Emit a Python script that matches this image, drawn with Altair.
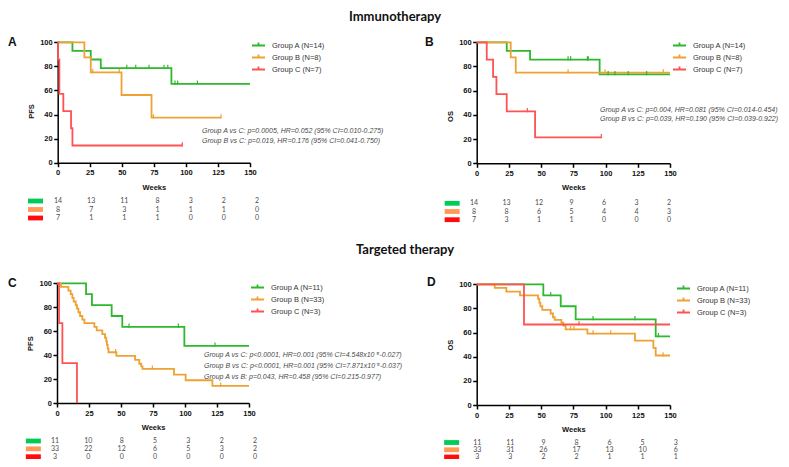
import altair as alt
import pandas as pd

W, H = 773, 451
week_ticks = [0, 25, 50, 75, 100, 125, 150]
pct_ticks = [0, 20, 40, 60, 80, 100]
groups = ["A", "B", "C"]
line_colors = ["#2DB82D", "#EDA233", "#FF5252"]
swatch_colors = ["#00CC55", "#FF9955", "#FF0D0D"]

# ---------------- Panel A : Immunotherapy, PFS ----------------
a_labels = ["Group A (N=14)", "Group B (N=8)", "Group C (N=7)"]
a_A_t = [0, 11.5, 25.8, 33.6, 88.7, 150]
a_A_s = [100, 92.9, 85.7, 78.6, 65.5, 65.5]
a_A_ct = [53.9, 60.9, 71.2, 82.9, 85.9, 91.5, 93.6, 109]
a_A_cs = [78.6, 78.6, 78.6, 78.6, 78.6, 65.5, 65.5, 65.5]
a_B_t = [0, 20.8, 25.8, 49.8, 73.2, 127.4]
a_B_s = [100, 87.5, 75, 56.25, 37.5, 37.5]
a_B_ct = [27.3, 48, 74.7, 127.4]
a_B_cs = [75, 75, 37.5, 37.5]
a_C_t = [0, 0.3, 1.3, 4.4, 10.4, 11.5, 97.2]
a_C_s = [100, 85.7, 57.1, 42.9, 28.6, 14.3, 14.3]
a_C_ct = [97.2]
a_C_cs = [14.3]
a_risk_A = [14, 13, 11, 8, 3, 2, 2]
a_risk_B = [8, 7, 3, 1, 1, 1, 0]
a_risk_C = [7, 1, 1, 1, 0, 0, 0]
a_notes = ["Group A vs C: p=0.0005, HR=0.052 (95% CI=0.010-0.275)",
           "Group B vs C: p=0.019, HR=0.176 (95% CI=0.041-0.750)"]

# ---------------- Panel B : Immunotherapy, OS ----------------
b_labels = ["Group A (N=14)", "Group B (N=8)", "Group C (N=7)"]
b_A_t = [0, 23.3, 41.4, 95.4, 150]
b_A_s = [100, 92.9, 85.7, 73.5, 73.5]
b_A_ct = [70.9, 72.9, 85.9, 86.6, 102, 107.3, 117.6, 131.8]
b_A_cs = [85.7, 85.7, 85.7, 85.7, 73.5, 73.5, 73.5, 73.5]
b_B_t = [0, 26.4, 30.3, 150]
b_B_s = [100, 87.5, 75, 75]
b_B_ct = [70.9, 99.6, 144.8]
b_B_cs = [75, 75, 75]
b_C_t = [0, 7.8, 12.7, 15.3, 23.3, 45.3, 96.7]
b_C_s = [100, 85.7, 71.4, 57.1, 42.9, 21.4, 21.4]
b_C_ct = [39.3, 96.7]
b_C_cs = [42.9, 21.4]
b_risk_A = [14, 13, 12, 9, 6, 3, 2]
b_risk_B = [8, 8, 6, 5, 4, 4, 3]
b_risk_C = [7, 3, 1, 1, 0, 0, 0]
b_notes = ["Group A vs C: p=0.004, HR=0.081 (95% CI=0.014-0.454)",
           "Group B vs C: p=0.039, HR=0.190 (95% CI=0.039-0.922)"]

# ---------------- Panel C : Targeted therapy, PFS ----------------
c_labels = ["Group A (N=11)", "Group B (N=33)", "Group C (N=3)"]
c_A_t = [0, 22.7, 27.3, 42.7, 51.0, 99.5, 150]
c_A_s = [100, 90.9, 81.8, 72.7, 63.6, 47.7, 47.7]
c_A_ct = [56.3, 94.8, 123.4]
c_A_cs = [63.6, 63.6, 47.7]
c_B_t = [0, 3.1, 8.9, 10.7, 12.0, 13.0, 14.6, 15.6, 16.7, 18.0, 19.8, 21.4,
         29.2, 31.0, 35.4, 37.5, 38.5, 39.0, 39.6, 40.2,
         46.4, 61.0, 64.3, 65.8, 66.8, 91.4, 100.5, 121.4, 150]
c_B_s = [100, 97.0, 93.9, 90.9, 87.9, 84.8, 81.8, 78.8, 75.8, 72.7, 69.7, 66.7,
         63.6, 60.6, 57.6, 54.5, 51.5, 48.5, 45.5, 42.4,
         39.4, 36.1, 32.8, 30.6, 28.5, 23.7, 19.0, 14.3, 14.3]
c_B_ct = [45.8, 74.5, 127.9]
c_B_cs = [42.4, 28.5, 14.3]
c_C_t = [0, 1.6, 4.2, 15.6]
c_C_s = [100, 66.7, 33.3, 0]
c_C_ct = []
c_C_cs = []
c_risk_A = [11, 10, 8, 5, 3, 2, 2]
c_risk_B = [33, 22, 12, 6, 5, 3, 2]
c_risk_C = [3, 0, 0, 0, 0, 0, 0]
c_notes = ["Group A vs C: p<0.0001, HR=0.001 (95% CI=4.548x10\u207b\u2075-0.027)",
           "Group B vs C: p<0.0001, HR=0.001 (95% CI=7.871x10\u207b\u2075-0.037)",
           "Group A vs B: p=0.043, HR=0.458 (95% CI=0.215-0.977)"]

# ---------------- Panel D : Targeted therapy, OS ----------------
d_labels = ["Group A (N=11)", "Group B (N=33)", "Group C (N=3)"]
d_A_t = [0, 51.7, 65.2, 76.8, 138.9, 150]
d_A_s = [100, 90.9, 81.8, 71.0, 56.8, 56.8]
d_A_ct = [57.4, 90.3, 122.8, 141]
d_A_cs = [90.9, 71.0, 71.0, 56.8]
d_B_t = [0, 14.0, 23.0, 33.6, 47.6, 48.6, 49.4, 50.9, 57.4, 59.2, 60.5, 65.7,
         67.2, 69.0, 85.9, 122.8, 137.1, 138.9, 150]
d_B_s = [100, 97.0, 93.9, 90.9, 87.9, 84.8, 81.8, 78.8, 75.8, 72.7, 70.5, 68.2,
         65.7, 62.7, 59.1, 53.3, 47.4, 41.0, 41.0]
d_B_ct = [72.9, 75.5, 90.3, 104, 144.6]
d_B_cs = [62.7, 62.7, 59.1, 59.1, 41.0]
d_C_t = [0, 36.7, 150]
d_C_s = [100, 66.7, 66.7]
d_C_ct = [79.4]
d_C_cs = [66.7]
d_risk_A = [11, 11, 9, 8, 6, 5, 3]
d_risk_B = [33, 31, 26, 17, 13, 10, 6]
d_risk_C = [3, 3, 2, 2, 1, 1, 1]


def curve_df(labels, series):
    rows = []
    for lab, (ts, ss) in zip(labels, series):
        for i, (t, s) in enumerate(zip(ts, ss)):
            rows.append({"t": t, "s": s, "g": lab, "o": i})
    return pd.DataFrame(rows, columns=["t", "s", "g", "o"])


def risk_df(risks):
    rows = []
    for g, vals in zip(groups, risks):
        for t, n in zip(week_ticks, vals):
            rows.append({"t": t, "g": g, "n": n})
    return pd.DataFrame(rows)


def panel(labels, curves, cens, risks, ytitle, xr, yr, legxy, rx, ry, sx, title_y=None):
    line_df = curve_df(labels, curves)
    cens_df = curve_df(labels, cens)
    xscale = alt.Scale(domain=[0, 150], range=list(xr), nice=False, zero=False)
    yscale = alt.Scale(domain=[0, 100], range=[yr[0], yr[1]], nice=False)
    cscale = alt.Scale(domain=labels, range=line_colors)
    yaxis_kw = dict(orient="left", offset=-xr[0], values=pct_ticks, title=ytitle,
                    tickSize=4, labelPadding=1.5, titlePadding=4.5,
                    labelFlush=False, labelOverlap=False, grid=False)
    if title_y is not None:
        yaxis_kw["titleY"] = title_y
    lines = alt.Chart(line_df).mark_line(interpolate="step-after", strokeWidth=1.8).encode(
        x=alt.X("t:Q", scale=xscale,
                axis=alt.Axis(orient="bottom", offset=yr[0] - H, values=week_ticks,
                              title="Weeks", tickSize=4, labelPadding=2, titlePadding=7,
                              labelFlush=False, labelOverlap=False, grid=False)),
        y=alt.Y("s:Q", scale=yscale, axis=alt.Axis(**yaxis_kw)),
        color=alt.Color("g:N", scale=cscale,
                        legend=alt.Legend(orient="none", legendX=legxy[0], legendY=legxy[1],
                                          title=None, symbolType="M-1,0H1M0,0V-0.45",
                                          symbolSize=169, symbolStrokeWidth=1.8,
                                          labelFont="Liberation Sans", labelFontSize=7.5,
                                          labelColor="#333333", labelOffset=6, rowPadding=-5.5)),
        order="o:Q",
    )
    ticks = alt.Chart(cens_df).mark_point(shape="M0,-1.1V0.3", size=36, filled=False,
                                          strokeWidth=1.2, opacity=1).encode(
        x=alt.X("t:Q", scale=xscale),
        y=alt.Y("s:Q", scale=yscale),
        color=alt.Color("g:N", scale=cscale, legend=None),
    )
    km = alt.layer(lines, ticks)

    rdf = risk_df(risks)
    ry_scale = alt.Scale(type="point", domain=groups, range=list(ry), padding=0)
    rtext = alt.Chart(rdf).mark_text(font="Lato", fontSize=7, color="#4d4d4d",
                                     baseline="middle", align="center").encode(
        x=alt.X("t:Q", scale=alt.Scale(domain=[0, 150], range=list(rx), nice=False, zero=False),
                axis=None),
        y=alt.Y("g:N", scale=ry_scale, axis=None),
        text="n:Q",
    )
    sdf = pd.DataFrame({"g": groups, "k": ["key"] * 3})
    swatch = alt.Chart(sdf).mark_point(shape="M-1,-0.32H1V0.32H-1Z", size=225, filled=True,
                                       opacity=1, strokeWidth=0).encode(
        x=alt.X("k:N", scale=alt.Scale(type="point", range=list(sx)), axis=None),
        y=alt.Y("g:N", scale=ry_scale, axis=None),
        color=alt.Color("g:N", scale=alt.Scale(domain=groups, range=swatch_colors), legend=None),
    )
    risk = alt.layer(rtext, swatch).resolve_scale(x="independent")
    return km, risk


def label(txt, x, y, **kw):
    return alt.Chart(pd.DataFrame({"txt": [txt]})).mark_text(**kw).encode(
        x=alt.value(x), y=alt.value(y), text="txt:N")


note_style = dict(font="Liberation Sans", fontSize=7, fontStyle="italic", color="#4a4a4a",
                  align="left", baseline="middle")
letter_style = dict(font="Liberation Sans", fontSize=12, fontWeight="bold", color="#111111",
                    align="left", baseline="middle")
head_style = dict(font="Lato", fontSize=13, fontWeight="bold", color="#111111",
                  align="center", baseline="middle")
top_head_style = dict(head_style, baseline="top")

kmA, rkA = panel(a_labels, [(a_A_t, a_A_s), (a_B_t, a_B_s), (a_C_t, a_C_s)],
                 [(a_A_ct, a_A_cs), (a_B_ct, a_B_cs), (a_C_ct, a_C_cs)],
                 [a_risk_A, a_risk_B, a_risk_C], "PFS",
                 (49.7, 242), (154.7, 34.3), (243, 30), (50, 249), (193, 210), (20, 35),
                 title_y=103)
kmB, rkB = panel(b_labels, [(b_A_t, b_A_s), (b_B_t, b_B_s), (b_C_t, b_C_s)],
                 [(b_A_ct, b_A_cs), (b_B_ct, b_B_cs), (b_C_ct, b_C_cs)],
                 [b_risk_A, b_risk_B, b_risk_C], "OS",
                 (468.7, 662), (155.3, 34.3), (664, 30), (466, 661), (195.3, 211.7), (436.3, 452),
                 title_y=108)
kmC, rkC = panel(c_labels, [(c_A_t, c_A_s), (c_B_t, c_B_s), (c_C_t, c_C_s)],
                 [(c_A_ct, c_A_cs), (c_B_ct, c_B_cs), (c_C_ct, c_C_cs)],
                 [c_risk_A, c_risk_B, c_risk_C], "PFS",
                 (49, 241), (395, 275.3), (242, 272), (47, 247), (433, 448.7), (18, 32.7))
kmD, rkD = panel(d_labels, [(d_A_t, d_A_s), (d_B_t, d_B_s), (d_C_t, d_C_s)],
                 [(d_A_ct, d_A_cs), (d_B_ct, d_B_cs), (d_C_ct, d_C_cs)],
                 [d_risk_A, d_risk_B, d_risk_C], "OS",
                 (468.7, 662), (397, 276.3), (668, 273), (469.3, 667.7), (434.5, 449), (436.3, 451))

texts = [
    label("Immunotherapy", 387, 2.5, **top_head_style),
    label("Targeted therapy", 397, 242, **head_style),
    label("A", 0, 34, **letter_style),
    label("B", 417, 34, **letter_style),
    label("C", 0, 275.3, **letter_style),
    label("D", 419, 274, **letter_style),
    label(a_notes[0], 194, 123, **note_style),
    label(a_notes[1], 194, 133.3, **note_style),
    label(b_notes[0], 592, 102, **note_style),
    label(b_notes[1], 592, 111.3, **note_style),
    label(c_notes[0], 196, 347, **note_style),
    label(c_notes[1], 196, 358, **note_style),
    label(c_notes[2], 196, 369, **note_style),
]

chart = alt.layer(kmA, rkA, kmB, rkB, kmC, rkC, kmD, rkD, *texts).resolve_scale(
    x="independent", y="independent", color="independent"
).resolve_axis(x="independent", y="independent").resolve_legend(color="independent").properties(
    width=W, height=H, padding=0, autosize=alt.AutoSizeParams(type="none")
).configure_view(stroke=None).configure_axis(
    domainColor="#000000", domainWidth=1.5, tickColor="#000000", tickWidth=1.5,
    labelFont="Liberation Sans", labelFontSize=7.5, labelFontWeight="bold", labelColor="#111111",
    titleFont="Liberation Sans", titleFontSize=7.5, titleFontWeight="bold", titleColor="#111111",
)

chart.save("out.html", embed_options={"renderer": "svg", "actions": False})
